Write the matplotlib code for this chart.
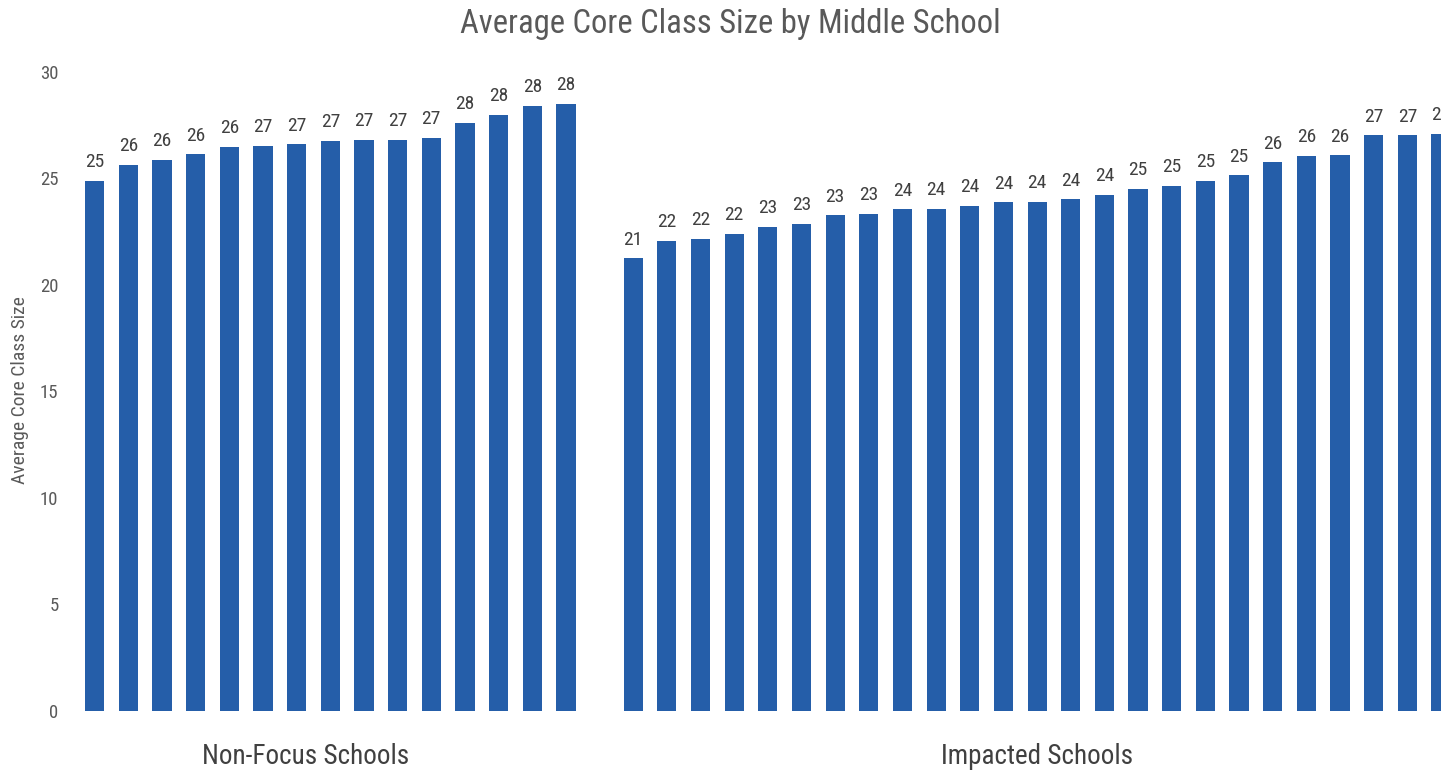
import matplotlib
matplotlib.use("Agg")
import matplotlib.pyplot as plt
import numpy as np

plt.rcParams['font.family'] = ['Roboto Condensed', 'DejaVu Sans']

title = "Average Core Class Size by Middle School"
y_label = "Average Core Class Size"
groups = ["Non-Focus Schools", "Impacted Schools"]

non_focus = [24.87, 25.62, 25.86, 26.13, 26.47, 26.53, 26.60, 26.77, 26.80, 26.80,
             26.89, 27.60, 27.99, 28.40, 28.49]
impacted = [21.24, 22.05, 22.16, 22.39, 22.72, 22.85, 23.26, 23.35, 23.54, 23.57,
            23.70, 23.87, 23.91, 24.02, 24.24, 24.51, 24.64, 24.90, 25.15, 25.75,
            26.05, 26.08, 27.02, 27.02, 27.10]
y_ticks = [0, 5, 10, 15, 20, 25, 30]

BAR = '#255EA9'
TXT = '#595959'

W, H = 1441, 773
fig = plt.figure(figsize=(W / 100, H / 100), dpi=100)
left = 77.9 / W
bottom = (H - 710.5) / H
top = (H - 72) / H
ax = fig.add_axes([left, bottom, 1 - left, top - bottom])

x_nf = np.arange(len(non_focus))
x_im = np.arange(len(impacted)) + len(non_focus) + 1
values = non_focus + impacted
xs = np.concatenate([x_nf, x_im])

ax.bar(xs, values, width=0.57, color=BAR, zorder=2)
for x, v in zip(xs, values):
    ax.annotate(f"{v:.0f}", (x, v), xytext=(0, 7), textcoords='offset points',
                ha='center', va='bottom', fontsize=14, color='#404040',
                annotation_clip=False)

ax.set_xlim(-0.5, 40.0)
ax.set_ylim(0, 30)
ax.set_yticks(y_ticks)
ax.set_yticklabels([str(t) for t in y_ticks], fontsize=13.5, color=TXT)
ax.tick_params(axis='y', length=0, pad=14)
ax.set_xticks([])
for s in ax.spines.values():
    s.set_visible(False)

fig.text(20 / W, 1 - 390 / H, y_label, rotation=90, ha='center', va='center',
         fontsize=14, color=TXT)

fig.text(730.5 / W, 1 - 24 / H, title, ha='center', va='center', fontsize=23.5, color=TXT)
fig.text(306 / W, 1 - 757 / H, groups[0], ha='center', va='center', fontsize=19.5, color='#404040')
fig.text(1037 / W, 1 - 757 / H, groups[1], ha='center', va='center', fontsize=19.5, color='#404040')

fig.savefig("out.png", dpi=100)
